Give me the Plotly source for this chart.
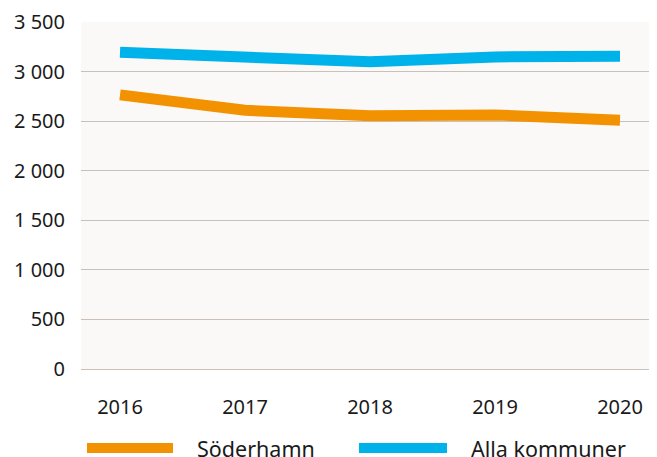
import plotly.graph_objects as go

# data
years = [2016, 2017, 2018, 2019, 2020]
soderhamn = [2765, 2610, 2555, 2562, 2510]
alla_kommuner = [3195, 3155, 3098, 3148, 3155]
series_names = ['Söderhamn', 'Alla kommuner']
colors = ['#F39200', '#00B2EA']

FONT = 'Noto Sans'
TXT = '#1a1a1a'

fig = go.Figure()
for name, vals, col in zip(series_names, [soderhamn, alla_kommuner], colors):
    fig.add_trace(go.Scatter(x=years, y=vals, name=name, mode='lines',
                             line=dict(color=col, width=11),
                             showlegend=False))

# custom legend below the plot (wide swatches like the original)
legend_pos = [(0.0104, 0.1597, 0.2031), (0.4826, 0.6354, 0.6788)]
for (x0, x1, xt), name, col in zip(legend_pos, series_names, colors):
    fig.add_shape(type='line', xref='paper', yref='paper', x0=x0, x1=x1,
                  y0=-0.2277, y1=-0.2277, line=dict(color=col, width=10))
    fig.add_annotation(xref='paper', yref='paper', x=xt, y=-0.2277, text=name,
                       showarrow=False, xanchor='left', yanchor='middle',
                       height=20, valign='middle', borderpad=0,
                       xshift=-2, font=dict(family=FONT, size=21.5, color=TXT))

# page body has an 8px margin, so the figure is 8px smaller
fig.update_layout(
    width=649, height=449,
    margin=dict(l=73, r=0, t=14, b=88),
    paper_bgcolor='white',
    plot_bgcolor='#FAF9F8',
    font=dict(family=FONT, size=20, color=TXT),
    separators=', ',
)
fig.update_xaxes(range=[2015.688, 2020.296], tickvals=years, ticktext=[str(y) for y in years],
                 showgrid=False, zeroline=False, showline=False, automargin=False,
                 ticks='outside', ticklen=20, tickcolor='rgba(0,0,0,0)')
fig.update_yaxes(range=[0, 3500], dtick=500, tickformat=',d', automargin=False,
                 showgrid=True, gridcolor='#C9C0BA', gridwidth=1.3,
                 zeroline=True, zerolinecolor='#C9C0BA', zerolinewidth=1.3,
                 showline=False, ticks='outside', ticklen=11, tickcolor='rgba(0,0,0,0)')

fig.write_html("out.html")
